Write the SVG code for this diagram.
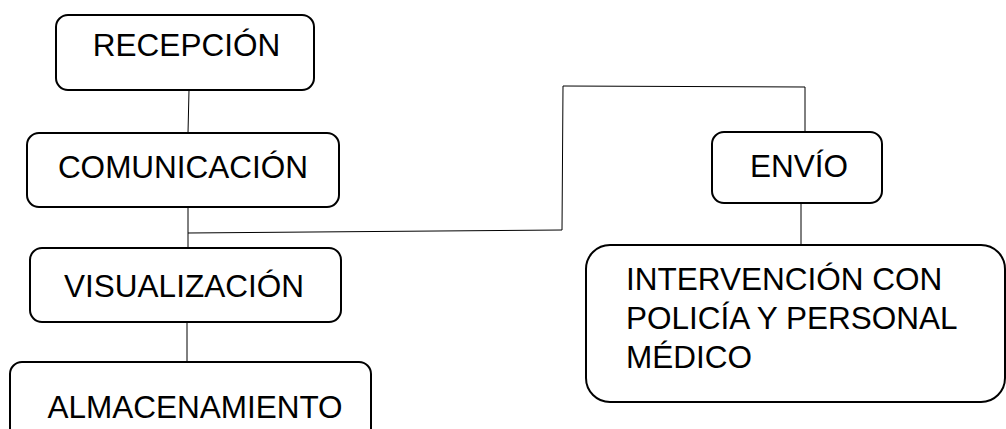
<svg xmlns="http://www.w3.org/2000/svg" width="1006" height="429" viewBox="0 0 1006 429">
<style>
.box{fill:#fff;stroke:#000;stroke-width:2}
.t{font-family:"Liberation Sans",Arial,sans-serif;font-size:31.5px;fill:#000}
.c{text-anchor:middle}
.ln{fill:none;stroke:#000;stroke-width:1}
</style>
<rect width="1006" height="429" fill="#fff"/>
<g id="connectors">
<line class="ln" x1="189" y1="90" x2="188" y2="133"/>
<line class="ln" x1="188" y1="207" x2="188" y2="248"/>
<polyline class="ln" points="188,233 562,230 563,86 805,87 805,132"/>
<line class="ln" x1="187" y1="322" x2="187" y2="362"/>
<line class="ln" x1="801" y1="203" x2="801" y2="245"/>
</g>
<g id="recepcion">
<rect class="box" x="56" y="15" width="258" height="75" rx="12"/>
<text class="t c" x="186.5" y="56">RECEPCIÓN</text>
</g>
<g id="comunicacion">
<rect class="box" x="27" y="133" width="312" height="74" rx="12"/>
<text class="t c" x="183" y="178">COMUNICACIÓN</text>
</g>
<g id="visualizacion">
<rect class="box" x="30" y="248" width="311" height="74" rx="12"/>
<text class="t c" x="184" y="297">VISUALIZACIÓN</text>
</g>
<g id="almacenamiento">
<rect class="box" x="10" y="362" width="361" height="90" rx="12"/>
<text class="t c" x="195" y="418">ALMACENAMIENTO</text>
</g>
<g id="envio">
<rect class="box" x="712" y="132" width="170" height="71" rx="12"/>
<text class="t c" x="799" y="177">ENVÍO</text>
</g>
<g id="intervencion">
<rect class="box" x="586" y="245" width="419" height="157" rx="24"/>
<text class="t" x="626" y="290">INTERVENCIÓN CON</text>
<text class="t" x="626" y="329">POLICÍA Y PERSONAL</text>
<text class="t" x="626" y="368">MÉDICO</text>
</g>
</svg>
